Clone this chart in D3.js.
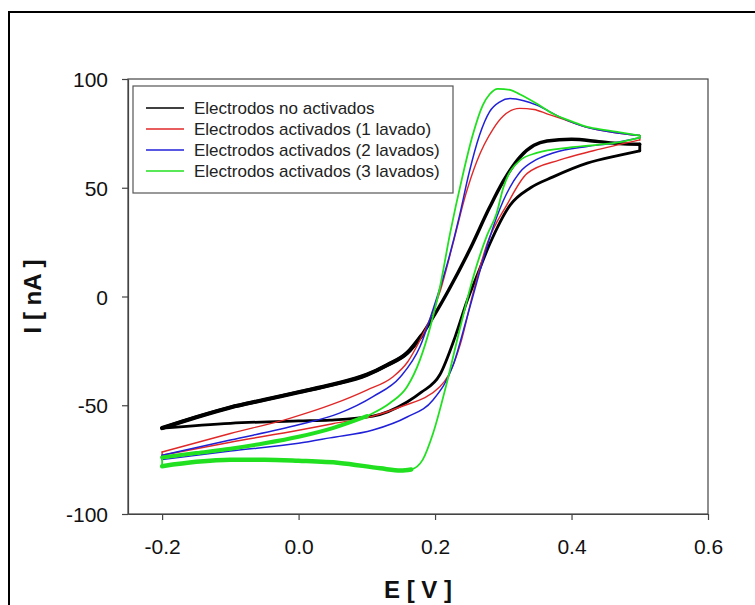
<!DOCTYPE html>
<html>
<head>
<meta charset="utf-8">
<script src="https://cdn.jsdelivr.net/npm/d3@7"></script>
<style>
  html, body { margin: 0; padding: 0; background: #fff; }
  svg { display: block; }
</style>
</head>
<body>
<svg id="chart" width="755" height="605"></svg>
<script>
// ---------------- DATA ----------------
const xTicks = [-0.2, 0.0, 0.2, 0.4, 0.6];
const xTickLabels = ["-0.2", "0.0", "0.2", "0.4", "0.6"];
const yTicks = [-100, -50, 0, 50, 100];
const yTickLabels = ["-100", "-50", "0", "50", "100"];
const seriesNames = [
  "Electrodos no activados",
  "Electrodos activados (1 lavado)",
  "Electrodos activados (2 lavados)",
  "Electrodos activados (3 lavados)"
];
const seriesColors = ["#000000", "#e02828", "#2020d8", "#20e020"];

// [E (V), I (nA)] — forward (upper) and reverse (lower) branches
const blackFwd = [[-0.2,-60.5],[-0.15,-55.5],[-0.1,-51],[-0.05,-47.5],[0.0,-44],[0.05,-40.5],[0.1,-36],[0.13,-31.5],[0.159,-26],[0.18,-18],[0.2,-8],[0.22,3],[0.25,21],[0.28,41],[0.3,53],[0.324,64],[0.345,69.5],[0.364,71.5],[0.4,72.3],[0.44,71.2],[0.47,70.3],[0.5,70]];
const blackRev = [[0.5,67],[0.471,65],[0.423,61.3],[0.373,55],[0.34,50],[0.31,42],[0.28,24],[0.262,10],[0.247,-2],[0.23,-18],[0.207,-36],[0.18,-44],[0.159,-48.5],[0.109,-55],[0.046,-56.8],[0.0,-57.2],[-0.1,-58.3],[-0.2,-60.5]];

const redFwd = [[-0.2,-71.5],[-0.1,-63],[-0.013,-56],[0.05,-49.5],[0.1,-43],[0.138,-37],[0.16,-30],[0.178,-20],[0.193,-10],[0.207,2],[0.226,24],[0.245,47],[0.261,62],[0.285,77],[0.3,83],[0.324,86.5],[0.345,86],[0.364,84],[0.383,82],[0.42,78],[0.46,75.5],[0.5,74]];
const redRev = [[0.5,72],[0.432,67],[0.383,62.8],[0.335,56.6],[0.305,42],[0.276,24],[0.256,2],[0.237,-22],[0.22,-36],[0.207,-41.5],[0.149,-50.8],[0.109,-55],[0.05,-58.5],[0.0,-61.5],[-0.1,-67],[-0.2,-73]];

const blueFwd = [[-0.2,-73],[-0.1,-66],[0.0,-59],[0.06,-53.6],[0.109,-46],[0.149,-37],[0.178,-23],[0.197,-6],[0.217,14],[0.235,36],[0.25,57],[0.265,74],[0.28,85],[0.295,89.5],[0.31,91],[0.33,90],[0.349,88],[0.383,82.5],[0.42,78],[0.46,75.5],[0.5,74]];
const blueRev = [[0.5,73],[0.46,70.5],[0.423,69],[0.373,66],[0.349,63],[0.324,57],[0.3,44],[0.28,27],[0.266,12],[0.247,-9.4],[0.226,-32],[0.197,-47.6],[0.159,-55.4],[0.109,-61.4],[0.046,-65],[0.0,-67.5],[-0.1,-71],[-0.2,-75]];

const greenFwd = [[-0.2,-74],[-0.15,-72],[-0.1,-70],[-0.05,-67.5],[0.0,-64.5],[0.05,-60.5],[0.1,-55],[0.134,-49],[0.159,-41.5],[0.178,-29],[0.193,-14],[0.207,4],[0.222,29],[0.24,55],[0.255,74],[0.27,88],[0.28,93],[0.292,95.5],[0.31,95],[0.324,93],[0.35,88.5],[0.373,84],[0.4,80.5],[0.423,78],[0.45,76.5],[0.471,75.5],[0.5,74]];
const greenRev = [[0.5,73],[0.471,71],[0.43,69.5],[0.398,68.5],[0.349,66],[0.324,62.5],[0.3,50],[0.29,38],[0.276,28],[0.256,9],[0.237,-14],[0.217,-40],[0.197,-63],[0.182,-75],[0.165,-79.5],[0.15,-80],[0.12,-79],[0.06,-76.5],[0.0,-75.5],[-0.05,-75],[-0.1,-75],[-0.15,-76],[-0.2,-78]];

// ---------------- LAYOUT ----------------
const svg = d3.select("#chart");
const L = 128, R = 708, T = 79, B = 514;
const x = d3.scaleLinear().domain([-0.25, 0.6]).range([L, R]);
const y = d3.scaleLinear().domain([-100, 100]).range([B, T]);

// outer frame
svg.append("rect").attr("x", 9).attr("y", 12).attr("width", 760).attr("height", 610)
  .attr("fill", "none").attr("stroke", "#000").attr("stroke-width", 2);

// plot box
svg.append("rect").attr("x", L).attr("y", T).attr("width", R - L).attr("height", B - T)
  .attr("fill", "none").attr("stroke", "#444").attr("stroke-width", 1.2);

const fontFam = "'Liberation Sans', Arial, sans-serif";

const xAxis = svg.append("g").attr("transform", `translate(0,${B})`)
  .call(d3.axisBottom(x).tickValues(xTicks).tickFormat((d, i) => xTickLabels[i]).tickSize(6).tickSizeOuter(0));
const yAxis = svg.append("g").attr("transform", `translate(${L},0)`)
  .call(d3.axisLeft(y).tickValues(yTicks).tickFormat((d, i) => yTickLabels[i]).tickSize(6).tickSizeOuter(0));
[xAxis, yAxis].forEach(g => {
  g.select(".domain").attr("stroke", "#444").attr("stroke-width", 1.2);
  g.selectAll(".tick line").attr("stroke", "#444").attr("stroke-width", 1.2);
  g.selectAll("text").attr("font-family", fontFam).attr("font-size", 21).attr("fill", "#111");
});
xAxis.selectAll("text").attr("dy", null).attr("y", 40);
yAxis.selectAll("text").attr("x", -20).attr("dy", "0.36em");

// axis titles
svg.append("text").attr("x", (L + R) / 2).attr("y", 598).attr("text-anchor", "middle")
  .attr("font-family", fontFam).attr("font-weight", "bold").attr("font-size", 24)
  .attr("fill", "#111").text("E [ V ]");
svg.append("text").attr("transform", `translate(41,${(T + B) / 2}) rotate(-90)`)
  .attr("text-anchor", "middle")
  .attr("font-family", fontFam).attr("font-weight", "bold").attr("font-size", 24)
  .attr("fill", "#111").text("I [ nA ]");

// curves
const smooth = d3.line().x(d => x(d[0])).y(d => y(d[1])).curve(d3.curveMonotoneX);
const straight = d3.line().x(d => x(d[0])).y(d => y(d[1]));
const plot = svg.append("g");
function drawBranch(pts, color, width) {
  const sorted = pts.slice().sort((a, b) => a[0] - b[0]);
  plot.append("path").datum(sorted)
    .attr("d", smooth).attr("fill", "none").attr("stroke", color)
    .attr("stroke-width", width).attr("stroke-linejoin", "round").attr("stroke-linecap", "round");
}
function drawLoop(fwd, rev, color, wFwd, wRev) {
  drawBranch(fwd, color, wFwd);
  drawBranch(rev, color, wRev);
  // turning points of the scan
  [[fwd[fwd.length - 1], rev[0]], [rev[rev.length - 1], fwd[0]]].forEach(seg => {
    plot.append("path").datum(seg).attr("d", straight).attr("fill", "none")
      .attr("stroke", color).attr("stroke-width", wRev).attr("stroke-linecap", "round");
  });
}
drawLoop(blackFwd, blackRev, seriesColors[0], 3.4, 2.8);
drawBranch(blackFwd.filter(d => d[0] <= 0.18), seriesColors[0], 4.2);
drawLoop(redFwd, redRev, seriesColors[1], 1.4, 1.4);
drawLoop(blueFwd, blueRev, seriesColors[2], 1.5, 1.5);
drawLoop(greenFwd, greenRev, seriesColors[3], 1.8, 1.8);
// thicker noisy band of the green trace at low potentials
drawBranch(greenFwd.filter(d => d[0] <= 0.1), seriesColors[3], 4);
drawBranch(greenRev.filter(d => d[0] <= 0.17), seriesColors[3], 4.5);

// legend
const lg = svg.append("g");
lg.append("rect").attr("x", 133).attr("y", 86).attr("width", 320).attr("height", 107)
  .attr("fill", "#fff").attr("stroke", "#555").attr("stroke-width", 1.2);
seriesNames.forEach((name, i) => {
  const yy = 108 + i * 21;
  lg.append("line").attr("x1", 146).attr("x2", 184).attr("y1", yy).attr("y2", yy)
    .attr("stroke", seriesColors[i]).attr("stroke-width", 1.3);
  lg.append("text").attr("x", 194).attr("y", yy).attr("dy", "0.36em")
    .attr("font-family", fontFam).attr("font-size", 17).attr("fill", "#222").text(name);
});
</script>
</body>
</html>
